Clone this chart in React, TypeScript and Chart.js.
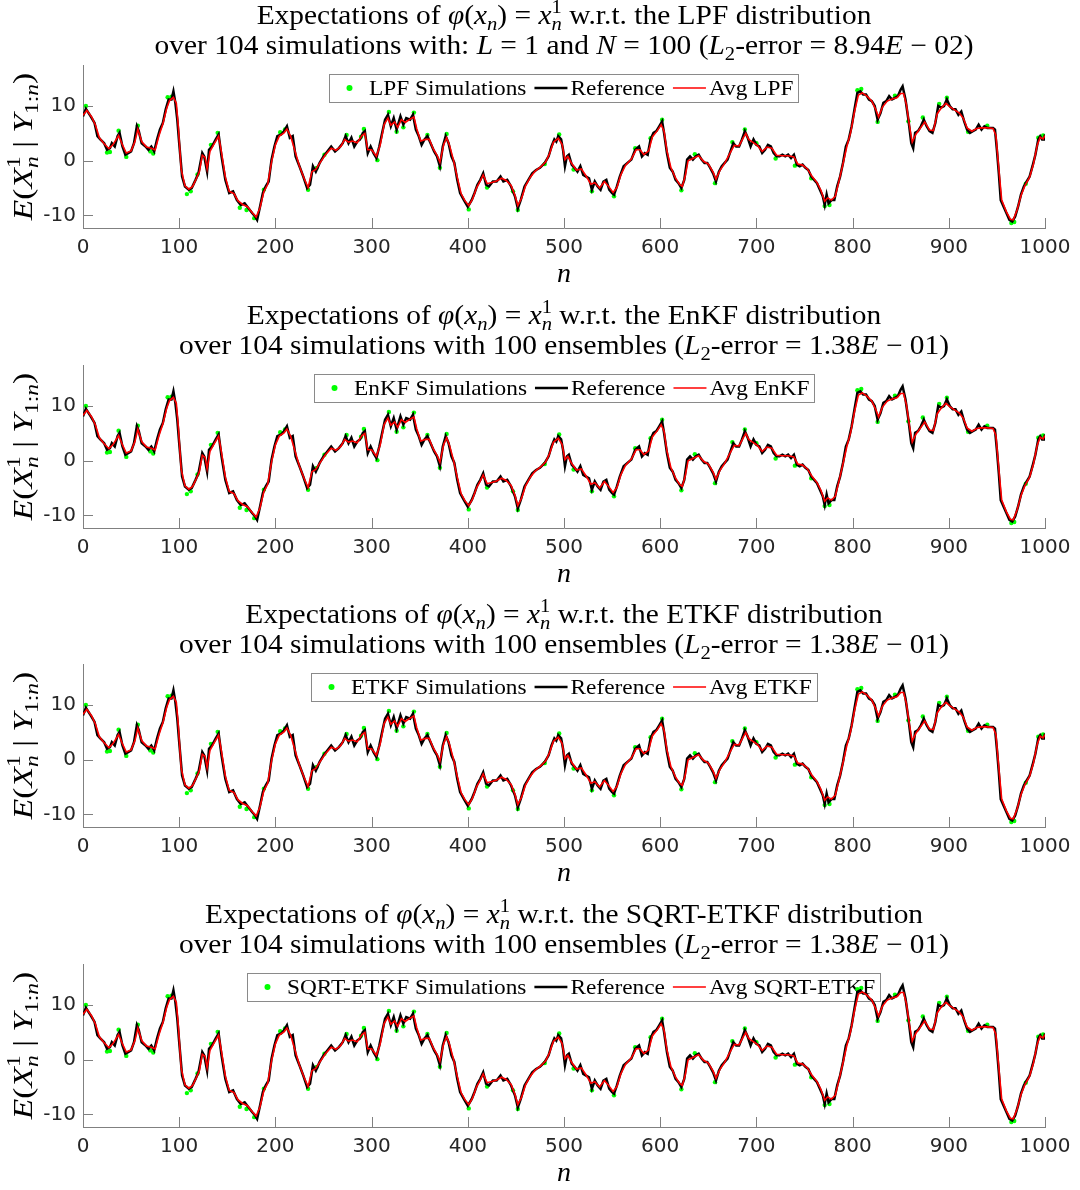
import React, { useEffect, useRef } from 'react';
import { Chart, registerables } from 'chart.js';

Chart.register(...registerables);

// ---------------- data ----------------
const METHODS = ['LPF', 'EnKF', 'ETKF', 'SQRT-ETKF'];
const L2_MANTISSA = ['8.94', '1.38', '1.38', '1.38'];
const L2_EXPONENT = ['02', '01', '01', '01'];
const N_SIMULATIONS = 104;
const N_ENSEMBLES = 100;

const X_TICKS = [0, 100, 200, 300, 400, 500, 600, 700, 800, 900, 1000];
const Y_TICKS = [-10, 0, 10];
const X_MIN = 0;
const X_MAX = 1000;
const Y_MIN = -12.3;
const Y_MAX = 17.5;

// reference trajectory [n, value]
const REFERENCE: [number, number][] = [
  [0, 8.1], [3, 9.5], [8, 8.1], [12, 6.9], [15, 4.5], [18, 3.9], [22, 3.2], [25, 2.0], [28, 2.3], [30, 3.2],
  [33, 2.6], [36, 4.5], [38, 5.1], [41, 2.6], [44, 1.1], [47, 1.4], [50, 1.7], [53, 3.2], [56, 6.3], [58, 5.4],
  [61, 3.2], [65, 2.6], [68, 2.0], [71, 2.6], [74, 1.7], [77, 3.9], [80, 5.7], [83, 6.9], [86, 9.4], [89, 11.2],
  [92, 11.2], [94, 12.7], [96, 10.6], [98, 7.5], [100, 3.2], [103, -2.9], [106, -4.7], [110, -5.3], [113, -5.0], [117, -3.5],
  [120, -2.3], [124, 1.4], [126, 0.8], [129, -2.0], [131, 2.0], [134, 2.6], [138, 3.9], [141, 4.8], [144, 0.8], [148, -3.5],
  [152, -5.9], [156, -5.6], [160, -7.2], [164, -8.1], [168, -7.8], [172, -8.7], [176, -9.6], [179, -10.2], [181, -10.8], [184, -8.4],
  [187, -5.9], [190, -4.7], [193, -3.8], [196, 0.2], [199, 2.6], [202, 4.5], [206, 4.8], [209, 5.4], [212, 6.3], [215, 4.2],
  [218, 4.5], [221, 0.8], [225, -1.0], [229, -2.9], [233, -5.0], [236, -4.4], [239, -1.0], [242, -2.0], [246, -0.4], [250, 0.8],
  [254, 1.7], [258, 2.6], [262, 1.7], [266, 2.3], [270, 3.2], [273, 4.5], [276, 3.2], [279, 4.2], [282, 2.6], [285, 3.5],
  [288, 3.9], [291, 5.1], [293, 5.4], [296, 1.4], [299, 2.6], [302, 1.4], [305, 0.5], [308, 2.6], [311, 5.1], [314, 7.5],
  [317, 8.4], [320, 6.3], [323, 7.8], [326, 5.7], [330, 8.1], [333, 6.6], [336, 7.8], [340, 7.5], [343, 8.4], [346, 5.7],
  [349, 4.5], [352, 2.9], [355, 3.9], [358, 4.5], [362, 2.9], [365, 1.7], [368, 0.8], [371, -1.0], [374, 2.6], [377, 4.5],
  [380, 3.2], [383, 0.8], [386, -0.4], [389, -3.5], [392, -5.9], [396, -7.2], [400, -8.4], [404, -7.2], [407, -5.9], [410, -4.4],
  [413, -3.5], [416, -2.3], [419, -4.4], [422, -4.7], [426, -3.8], [430, -3.8], [434, -2.9], [437, -3.8], [441, -3.5], [445, -4.7],
  [449, -6.5], [452, -8.7], [455, -7.2], [459, -4.7], [463, -3.5], [467, -2.3], [471, -1.7], [475, -1.3], [480, -0.4], [484, 0.8],
  [487, 2.6], [490, 3.9], [492, 3.5], [494, 4.5], [497, 3.9], [499, 2.0], [501, -1.0], [503, 0.8], [505, 1.1], [508, -0.7],
  [511, -1.3], [514, -2.0], [517, -1.0], [520, -2.6], [523, -2.9], [526, -3.2], [529, -5.3], [532, -3.8], [535, -4.7], [538, -5.3],
  [541, -3.8], [544, -3.5], [547, -5.3], [550, -5.9], [552, -6.2], [555, -4.7], [558, -2.9], [562, -1.0], [566, -0.4], [570, 0.2],
  [574, 2.0], [578, 2.6], [581, 0.8], [584, 1.4], [587, 1.1], [590, 3.9], [593, 5.1], [596, 5.4], [599, 6.3], [602, 7.2],
  [604, 5.1], [607, 1.4], [610, -1.3], [613, -2.0], [616, -3.5], [619, -4.1], [622, -5.0], [625, -3.5], [628, 0.2], [631, 0.8],
  [634, 0.2], [637, 0.8], [640, 1.1], [643, 0.2], [646, -0.4], [649, -0.4], [652, -1.3], [655, -2.3], [658, -3.8], [661, -2.0],
  [664, -1.0], [667, -0.4], [670, 0.2], [673, 1.7], [676, 3.2], [679, 2.6], [682, 2.6], [685, 3.9], [688, 5.4], [691, 4.2],
  [694, 2.6], [697, 3.9], [700, 2.9], [703, 2.6], [706, 1.4], [709, 2.0], [712, 2.9], [715, 2.6], [718, 1.4], [721, 0.8],
  [724, 0.8], [727, 1.1], [730, 0.8], [733, 1.1], [736, 0.5], [739, 1.1], [742, -0.7], [745, -1.0], [748, -0.7], [751, -1.3],
  [754, -1.7], [757, -2.9], [760, -3.5], [763, -4.1], [766, -5.3], [769, -6.5], [771, -8.1], [773, -6.2], [775, -7.8], [778, -7.2],
  [781, -7.2], [784, -4.7], [787, -2.9], [790, -0.4], [793, 2.6], [796, 3.9], [799, 6.3], [802, 9.4], [805, 12.4], [808, 12.7],
  [811, 12.1], [814, 12.1], [817, 11.2], [820, 10.9], [823, 10.0], [826, 7.5], [829, 8.7], [832, 10.6], [835, 10.9], [838, 11.8],
  [841, 11.2], [844, 11.5], [847, 11.8], [850, 13.0], [852, 13.6], [855, 11.2], [858, 7.5], [861, 3.2], [863, 2.3], [865, 5.1],
  [868, 5.4], [871, 6.3], [874, 7.5], [877, 6.3], [880, 5.4], [883, 5.1], [886, 6.9], [889, 10.0], [892, 9.7], [895, 10.0],
  [898, 11.2], [901, 10.0], [904, 9.4], [907, 9.4], [910, 8.4], [913, 9.0], [916, 7.2], [919, 5.7], [922, 5.1], [925, 5.4],
  [928, 5.7], [931, 6.6], [934, 5.7], [937, 6.3], [940, 6.0], [943, 6.0], [946, 6.0], [948, 5.7], [950, 2.0], [952, -2.3],
  [954, -7.2], [957, -8.4], [960, -9.6], [963, -10.8], [966, -11.1], [969, -10.2], [972, -8.4], [975, -6.2], [978, -4.7], [981, -3.8],
  [984, -2.9], [987, -1.0], [990, 1.1], [993, 3.9], [995, 4.5], [997, 3.9], [999, 3.9], [1000, 4.8],
];

// averaged filter estimate [n, value]
const AVERAGE: [number, number][] = [
  [0, 8.3], [4, 9.2], [9, 8.0], [13, 6.5], [17, 4.2], [22, 3.1], [27, 2.2], [31, 2.9], [37, 4.6], [41, 2.9],
  [45, 1.4], [50, 1.8], [54, 3.5], [57, 5.8], [61, 3.5], [66, 2.5], [71, 2.3], [75, 2.0], [79, 4.6], [83, 6.7],
  [87, 9.6], [90, 11.0], [94, 11.6], [97, 10.5], [99, 6.5], [102, -1.5], [106, -4.6], [110, -5.2], [114, -4.7], [118, -3.2],
  [121, -2.0], [124, 1.0], [127, 0.6], [129, -1.5], [132, 1.7], [136, 3.0], [141, 4.5], [144, 1.5], [148, -3.0], [152, -5.6],
  [157, -6.0], [161, -7.3], [166, -8.0], [171, -8.4], [176, -9.5], [180, -10.3], [184, -8.6], [188, -5.7], [192, -4.3], [196, -0.2],
  [200, 2.9], [204, 4.5], [209, 5.1], [212, 5.8], [216, 4.4], [220, 2.0], [225, -1.0], [230, -3.3], [234, -4.9], [238, -2.0],
  [242, -1.6], [247, -0.2], [252, 1.1], [258, 2.3], [263, 1.9], [268, 2.6], [272, 3.9], [276, 3.4], [280, 3.6], [285, 3.3],
  [290, 4.6], [293, 5.0], [296, 2.0], [300, 2.0], [305, 0.8], [309, 2.9], [313, 6.6], [317, 7.8], [320, 6.5], [324, 7.1],
  [327, 6.1], [331, 7.5], [335, 7.0], [340, 7.6], [344, 8.0], [347, 5.8], [351, 3.6], [356, 3.9], [360, 3.9], [364, 2.2],
  [368, 1.0], [371, -0.3], [375, 3.0], [378, 4.2], [381, 2.8], [385, 0.2], [389, -3.0], [393, -6.0], [397, -7.3], [401, -8.2],
  [405, -7.0], [409, -5.0], [413, -3.7], [416, -2.6], [420, -4.2], [425, -4.0], [430, -3.7], [435, -3.2], [440, -3.6], [445, -4.5],
  [449, -6.3], [452, -8.2], [456, -6.8], [460, -4.6], [465, -3.0], [470, -1.9], [476, -1.1], [481, -0.2], [485, 1.3], [489, 3.4],
  [494, 4.1], [498, 3.0], [501, 0.2], [504, 0.8], [508, -0.5], [513, -1.7], [518, -1.5], [523, -2.8], [528, -4.3], [532, -4.0],
  [537, -5.0], [542, -3.8], [546, -4.6], [551, -5.8], [555, -4.9], [559, -2.6], [564, -0.8], [570, 0.3], [575, 2.0], [579, 2.0],
  [583, 1.1], [588, 1.8], [592, 4.4], [597, 5.5], [601, 6.6], [604, 5.4], [607, 1.8], [611, -1.2], [616, -3.2], [620, -4.3],
  [623, -4.7], [626, -2.8], [629, 0.0], [634, 0.4], [640, 0.9], [645, -0.1], [650, -0.6], [655, -2.1], [658, -3.4], [662, -1.8],
  [667, -0.5], [672, 1.2], [677, 2.8], [682, 2.7], [686, 4.1], [689, 5.0], [692, 3.9], [696, 3.4], [701, 2.8], [706, 1.7],
  [711, 2.5], [716, 2.3], [721, 1.0], [727, 0.9], [733, 0.9], [739, 0.7], [743, -0.6], [748, -0.8], [753, -1.5], [758, -2.9],
  [763, -4.0], [767, -5.4], [771, -7.4], [774, -6.8], [778, -7.2], [782, -6.5], [786, -3.6], [790, -0.6], [794, 2.6], [798, 5.2],
  [802, 9.0], [806, 12.0], [810, 12.4], [815, 11.8], [820, 10.9], [824, 9.4], [827, 8.0], [831, 9.8], [836, 10.9], [841, 11.3],
  [846, 11.5], [850, 12.3], [853, 12.3], [856, 10.2], [859, 6.5], [862, 3.4], [866, 4.9], [871, 6.1], [875, 7.1], [880, 5.6],
  [884, 5.5], [888, 8.6], [892, 9.6], [897, 10.5], [901, 9.9], [906, 9.3], [911, 8.7], [915, 7.8], [919, 6.0], [924, 5.4],
  [929, 5.9], [934, 6.0], [940, 6.0], [946, 5.9], [949, 4.6], [952, -1.5], [955, -7.2], [960, -9.4], [964, -10.7], [967, -10.8],
  [971, -9.0], [975, -6.4], [979, -4.6], [984, -3.0], [988, -0.6], [992, 2.9], [995, 4.3], [998, 4.0], [1000, 4.6],
];

// visible individual simulation points [n, value]
const SIMULATIONS: [number, number][] = [
  [3, 10.0], [25, 1.5], [28, 1.6], [37, 5.5], [45, 0.7], [57, 6.4], [70, 1.7], [73, 1.3], [88, 11.6], [92, 11.7],
  [108, -6.1], [112, -5.6], [119, -2.5], [133, 2.9], [140, 5.1], [163, -8.6], [170, -9.0], [178, -10.5], [188, -5.3], [205, 5.2],
  [210, 5.7], [234, -5.3], [243, -1.3], [251, 1.1], [274, 4.7], [289, 4.4], [292, 5.8], [306, 0.1], [318, 8.9], [326, 5.3],
  [333, 6.1], [344, 8.8], [358, 4.7], [371, -1.3], [378, 4.9], [401, -8.9], [420, -4.9], [447, -5.6], [452, -9.0], [480, -0.6],
  [495, 4.8], [510, -1.6], [529, -5.6], [552, -6.5], [574, 2.3], [590, 4.1], [602, 7.5], [622, -5.4], [636, 1.2], [657, -4.1],
  [675, 3.4], [688, 5.7], [700, 3.2], [720, 0.4], [740, -0.9], [757, -3.2], [771, -8.3], [776, -8.1], [805, 12.9], [809, 13.1],
  [826, 7.1], [844, 11.9], [858, 7.2], [873, 7.9], [890, 10.4], [898, 11.5], [920, 5.3], [940, 6.4], [965, -11.4], [968, -11.2],
  [980, -4.2], [993, 4.2], [998, 4.6],
];

// ---------------- styling ----------------
const SERIF = '"Liberation Serif", "DejaVu Serif", serif';
const SANS = '"DejaVu Sans", sans-serif';
const TITLE_SIZE = 27;
const TITLE_STRETCH = 1.09;
const LEGEND_SIZE = 22;
const LEGEND_STRETCH = 1.06;
const YLABEL_SIZE = 28;
const YLABEL_STRETCH = 1.2;
const AXIS_COLOR = '#808080';
const TICK_TEXT = '#262626';
const GREEN = '#00ff00';
const RED = '#ff0000';

const CANVAS_W = 1080;
const CANVAS_H = 291;
const PANEL_TOPS = [0, 300, 599, 899];

type Seg = { t: string; f: 'r' | 'i' | 'sub' | 'isub' | 'stack'; t2?: string };

function fontFor(f: string, size: number) {
  if (f === 'r') return `${size}px ${SERIF}`;
  if (f === 'i') return `italic ${size}px ${SERIF}`;
  if (f === 'sub') return `${size * 0.7}px ${SERIF}`;
  if (f === 'isub') return `italic ${size * 0.7}px ${SERIF}`;
  return `${size * 0.7}px ${SERIF}`;
}

function segWidth(ctx: CanvasRenderingContext2D, s: Seg, size: number) {
  if (s.f === 'stack') {
    ctx.font = `${size * 0.7}px ${SERIF}`;
    const a = ctx.measureText(s.t).width;
    ctx.font = `italic ${size * 0.7}px ${SERIF}`;
    const b = ctx.measureText(s.t2 || '').width;
    return Math.max(a, b);
  }
  ctx.font = fontFor(s.f, size);
  return ctx.measureText(s.t).width;
}

function drawRich(
  ctx: CanvasRenderingContext2D,
  segs: Seg[],
  cx: number,
  baseline: number,
  size: number,
  stretch: number
) {
  const widths = segs.map((s) => segWidth(ctx, s, size));
  const total = widths.reduce((a, b) => a + b, 0);
  ctx.save();
  ctx.translate(cx - (total * stretch) / 2, baseline);
  ctx.scale(stretch, 1);
  ctx.textAlign = 'left';
  ctx.textBaseline = 'alphabetic';
  let x = 0;
  segs.forEach((s, i) => {
    if (s.f === 'r' || s.f === 'i') {
      ctx.font = fontFor(s.f, size);
      ctx.fillText(s.t, x, 0);
    } else if (s.f === 'sub' || s.f === 'isub') {
      ctx.font = fontFor(s.f, size);
      ctx.fillText(s.t, x, size * 0.22);
    } else {
      ctx.font = `${size * 0.7}px ${SERIF}`;
      ctx.fillText(s.t, x, -size * 0.42);
      ctx.font = `italic ${size * 0.7}px ${SERIF}`;
      ctx.fillText(s.t2 || '', x, size * 0.22);
    }
    x += widths[i];
  });
  ctx.restore();
}

function titleLines(idx: number): Seg[][] {
  const m = METHODS[idx];
  const line1: Seg[] = [
    { t: 'Expectations of ', f: 'r' },
    { t: 'φ', f: 'i' },
    { t: '(', f: 'r' },
    { t: 'x', f: 'i' },
    { t: 'n', f: 'isub' },
    { t: ') = ', f: 'r' },
    { t: 'x', f: 'i' },
    { t: '1', t2: 'n', f: 'stack' },
    { t: ` w.r.t. the ${m} distribution`, f: 'r' },
  ];
  const tail: Seg[] = [
    { t: 'L', f: 'i' },
    { t: '2', f: 'sub' },
    { t: `-error = ${L2_MANTISSA[idx]}`, f: 'r' },
    { t: 'E', f: 'i' },
    { t: ` − ${L2_EXPONENT[idx]})`, f: 'r' },
  ];
  const line2: Seg[] =
    idx === 0
      ? [
          { t: `over ${N_SIMULATIONS} simulations with: `, f: 'r' },
          { t: 'L', f: 'i' },
          { t: ' = 1 and ', f: 'r' },
          { t: 'N', f: 'i' },
          { t: ` = ${N_ENSEMBLES} (`, f: 'r' },
          ...tail,
        ]
      : [{ t: `over ${N_SIMULATIONS} simulations with ${N_ENSEMBLES} ensembles (`, f: 'r' }, ...tail];
  return [line1, line2];
}

const Y_LABEL: Seg[] = [
  { t: 'E', f: 'i' },
  { t: '(', f: 'r' },
  { t: 'X', f: 'i' },
  { t: '1', t2: 'n', f: 'stack' },
  { t: ' | ', f: 'r' },
  { t: 'Y', f: 'i' },
  { t: '1:', f: 'sub' },
  { t: 'n', f: 'isub' },
  { t: ')', f: 'r' },
];

function makeConfig(idx: number): any {
  const m = METHODS[idx];
  const [line1, line2] = titleLines(idx);
  const legendItems = [
    { label: `${m} Simulations`, kind: 'dot', color: GREEN, width: 0 },
    { label: 'Reference', kind: 'line', color: '#000000', width: 2.5 },
    { label: `Avg ${m}`, kind: 'line', color: RED, width: 1.4 },
  ];

  const decorations = {
    id: 'decorations' + idx,
    beforeDatasetsDraw(chart: any) {
      const { ctx, chartArea: a, scales } = chart;
      ctx.save();
      // inward tick marks
      ctx.strokeStyle = AXIS_COLOR;
      ctx.lineWidth = 1;
      ctx.beginPath();
      X_TICKS.forEach((v) => {
        const px = Math.round(scales.x.getPixelForValue(v)) + 0.5;
        ctx.moveTo(px, a.bottom);
        ctx.lineTo(px, a.bottom - 10);
      });
      Y_TICKS.forEach((v) => {
        const py = Math.round(scales.y.getPixelForValue(v)) + 0.5;
        ctx.moveTo(a.left, py);
        ctx.lineTo(a.left + 10, py);
      });
      ctx.stroke();

      // legend (drawn beneath the curves)
      const markerW = 33;
      const gap = 3;
      const itemGap = 8;
      const padL = 4;
      const padR = 5;
      ctx.font = `${LEGEND_SIZE}px ${SERIF}`;
      const tw = legendItems.map((it) => ctx.measureText(it.label).width * LEGEND_STRETCH);
      const total = padL + padR + tw.reduce((s, w) => s + markerW + gap + w, 0) + itemGap * (legendItems.length - 1);
      const cx = (a.left + a.right) / 2;
      const left = Math.round(cx - total / 2);
      const top = 74;
      const h = 28;
      ctx.fillStyle = '#ffffff';
      ctx.fillRect(left, top, total, h);
      ctx.strokeStyle = '#8a8a8a';
      ctx.lineWidth = 1;
      ctx.strokeRect(left + 0.5, top + 0.5, Math.round(total), h);
      let x = left + padL;
      const cy = top + h / 2;
      legendItems.forEach((it, i) => {
        if (it.kind === 'dot') {
          ctx.fillStyle = it.color;
          ctx.beginPath();
          ctx.arc(x + markerW / 2, cy, 3, 0, Math.PI * 2);
          ctx.fill();
        } else {
          ctx.strokeStyle = it.color;
          ctx.lineWidth = it.width;
          ctx.beginPath();
          ctx.moveTo(x, cy);
          ctx.lineTo(x + markerW, cy);
          ctx.stroke();
        }
        x += markerW + gap;
        ctx.save();
        ctx.translate(x, cy + 1);
        ctx.scale(LEGEND_STRETCH, 1);
        ctx.fillStyle = '#000000';
        ctx.font = `${LEGEND_SIZE}px ${SERIF}`;
        ctx.textAlign = 'left';
        ctx.textBaseline = 'middle';
        ctx.fillText(it.label, 0, 0);
        ctx.restore();
        x += tw[i] + itemGap;
      });
      ctx.restore();
    },
    afterDraw(chart: any) {
      const { ctx, chartArea: a } = chart;
      ctx.save();
      ctx.fillStyle = '#000000';
      const cx = (a.left + a.right) / 2;
      drawRich(ctx, line1, cx, 24, TITLE_SIZE, TITLE_STRETCH);
      drawRich(ctx, line2, cx, 54, TITLE_SIZE, TITLE_STRETCH);
      ctx.translate(32, (a.top + a.bottom) / 2);
      ctx.rotate(-Math.PI / 2);
      drawRich(ctx, Y_LABEL, 0, 0, YLABEL_SIZE, YLABEL_STRETCH);
      ctx.restore();
    },
  };

  return {
    type: 'line',
    data: {
      datasets: [
        {
          label: `${m} Simulations`,
          data: SIMULATIONS.map(([x, y]) => ({ x, y })),
          showLine: false,
          pointRadius: 2.2,
          pointBorderWidth: 0,
          pointBackgroundColor: GREEN,
          backgroundColor: GREEN,
          borderColor: GREEN,
          order: 3,
        },
        {
          label: 'Reference',
          data: REFERENCE.map(([x, y]) => ({ x, y })),
          borderColor: '#000000',
          borderWidth: 2.5,
          pointRadius: 0,
          tension: 0,
          order: 2,
        },
        {
          label: `Avg ${m}`,
          data: AVERAGE.map(([x, y]) => ({ x, y })),
          borderColor: RED,
          borderWidth: 1.6,
          pointRadius: 0,
          tension: 0,
          order: 1,
        },
      ],
    },
    options: {
      animation: false,
      responsive: false,
      devicePixelRatio: 1,
      layout: { padding: { top: 65, right: 35, bottom: 0, left: 0 } },
      plugins: {
        legend: { display: false },
        tooltip: { enabled: false },
        title: { display: false },
      },
      scales: {
        x: {
          type: 'linear',
          min: X_MIN,
          max: X_MAX,
          grid: { display: false, drawTicks: false },
          border: { display: true, color: AXIS_COLOR, width: 1 },
          ticks: {
            padding: 8,
            color: TICK_TEXT,
            font: { family: SANS, size: 20 },
            maxRotation: 0,
            autoSkip: false,
            callback: (v: any) => String(v),
          },
          afterBuildTicks: (s: any) => {
            s.ticks = X_TICKS.map((v) => ({ value: v }));
          },
          afterFit: (s: any) => {
            s.height = CANVAS_H - 228;
            s.paddingLeft = 0;
            s.paddingRight = 0;
          },
          title: {
            display: true,
            text: 'n',
            color: '#000000',
            font: { family: SERIF, style: 'italic', size: 28 },
            padding: { top: 0, bottom: 0 },
          },
        },
        y: {
          type: 'linear',
          min: Y_MIN,
          max: Y_MAX,
          grid: { display: false, drawTicks: false },
          border: { display: true, color: AXIS_COLOR, width: 1 },
          ticks: {
            padding: 7,
            color: TICK_TEXT,
            font: { family: SANS, size: 20 },
            autoSkip: false,
            callback: (v: any) => String(v),
          },
          afterBuildTicks: (s: any) => {
            s.ticks = Y_TICKS.map((v) => ({ value: v }));
          },
          afterFit: (s: any) => {
            s.width = 83;
            s.paddingTop = 0;
            s.paddingBottom = 0;
          },
        },
      },
    },
    plugins: [decorations],
  };
}

function Panel({ idx, top }: { idx: number; top: number }) {
  const ref = useRef<HTMLCanvasElement>(null);
  useEffect(() => {
    const chart = new Chart(ref.current as HTMLCanvasElement, makeConfig(idx));
    return () => chart.destroy();
  }, [idx]);
  return (
    <canvas
      ref={ref}
      width={CANVAS_W}
      height={CANVAS_H}
      style={{ position: 'absolute', left: 0, top, width: CANVAS_W, height: CANVAS_H }}
    />
  );
}

export default function App() {
  return (
    <div
      style={{
        position: 'absolute',
        left: 0,
        top: 0,
        width: 1080,
        height: 1190,
        background: '#ffffff',
        overflow: 'hidden',
      }}
    >
      {METHODS.map((_, i) => (
        <Panel key={i} idx={i} top={PANEL_TOPS[i]} />
      ))}
    </div>
  );
}
